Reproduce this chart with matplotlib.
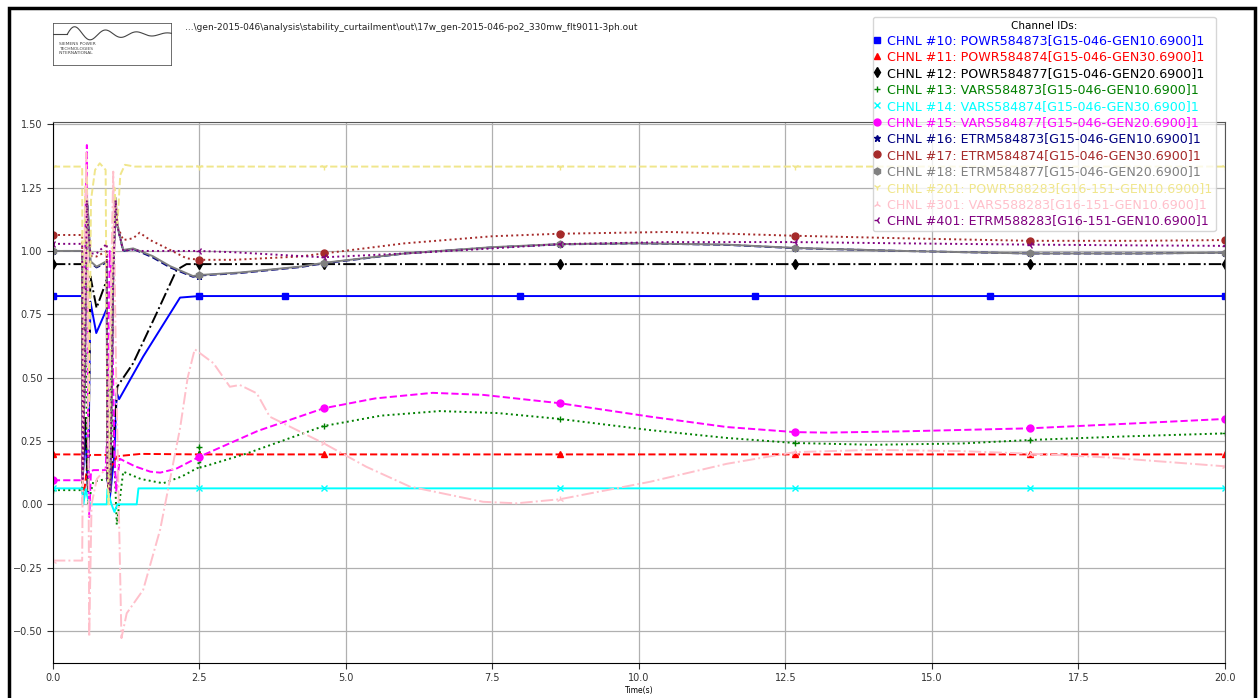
import numpy as np
import matplotlib
matplotlib.use('Agg')
import matplotlib.pyplot as plt
from matplotlib.patches import Rectangle

# PSS/E style channel plot: gen-2015-046, 3ph fault flt9011
header = '...\\gen-2015-046\\analysis\\stability_curtailment\\out\\17w_gen-2015-046-po2_330mw_flt9011-3ph.out'

mk_a = [0, 2.5, 3.96, 7.97, 11.98, 15.99, 20]
mk_b = [0, 2.5, 4.62, 8.65, 12.66, 16.67, 20]

# CHNL 10
t10 = [0, 0.5, 0.51, 0.55, 0.6, 0.64, 0.74, 0.92, 0.93, 0.97, 1.05, 1.09, 1.13, 1.54, 2.17, 2.5, 3.96, 7.97, 11.98, 15.99, 20]
v10 = [0.822, 0.822, 0.10, 0.30, 0.05, 0.80, 0.676, 0.772, 0.10, 0.02, 0.20, 0.44, 0.415, 0.583, 0.816, 0.822, 0.822, 0.822, 0.822, 0.822, 0.822]
# CHNL 11
t11 = [0, 0.5, 0.51, 0.56, 0.6, 0.65, 0.93, 0.95, 1.0, 1.05, 1.1, 1.5, 2.5, 4.62, 8.65, 12.66, 16.67, 20]
v11 = [0.197, 0.197, 0.0, 0.10, 0.19, 0.195, 0.195, 0.05, 0.15, 0.17, 0.19, 0.199, 0.197, 0.197, 0.197, 0.197, 0.197, 0.197]
# CHNL 12
t12 = [0, 0.5, 0.51, 0.55, 0.6, 0.64, 0.745, 0.92, 0.93, 0.97, 1.05, 1.1, 1.37, 1.77, 2.11, 2.28, 2.5, 4.62, 8.65, 12.66, 16.67, 20]
v12 = [0.948, 0.948, 0.10, 0.35, 0.05, 0.90, 0.775, 0.886, 0.10, 0.05, 0.30, 0.465, 0.557, 0.754, 0.925, 0.948, 0.948, 0.948, 0.948, 0.948, 0.948, 0.948]
# CHNL 13
t13 = [0, 0.5, 0.52, 0.56, 0.6, 0.69, 0.92, 0.93, 0.97, 1.03, 1.09, 1.2, 1.5, 1.88, 2.2, 2.48, 2.5, 2.52, 3.3, 4.62, 5.6, 6.6, 7.6, 8.65, 10.19, 11.5, 12.66, 14.0, 15.5, 16.67, 18.3, 20]
v13 = [0.056, 0.056, 0.30, 0.60, 0.0, 0.09, 0.10, 0.20, 0.50, 0.30, -0.08, 0.129, 0.10, 0.083, 0.11, 0.145, 0.225, 0.145, 0.20, 0.309, 0.35, 0.368, 0.36, 0.337, 0.293, 0.262, 0.242, 0.235, 0.24, 0.254, 0.268, 0.28]
# CHNL 14
t14 = [0, 0.5, 0.52, 0.56, 0.6, 0.64, 0.92, 0.93, 1.0, 1.05, 1.1, 1.12, 1.43, 1.46, 2.5, 4.62, 8.65, 12.66, 16.67, 20]
v14 = [0.063, 0.063, 0.0, 0.06, 0.02, 0.0, 0.0, 0.06, 0.0, -0.03, 0.0, 0.0, 0.0, 0.063, 0.063, 0.063, 0.063, 0.063, 0.063, 0.063]
# CHNL 15
t15 = [0, 0.5, 0.52, 0.56, 0.58, 0.6, 0.62, 0.65, 0.69, 0.9, 0.93, 0.97, 1.0, 1.05, 1.08, 1.14, 1.4, 1.66, 1.83, 2.1, 2.5, 3.5, 4.62, 5.5, 6.48, 7.34, 8.65, 10.19, 11.5, 12.66, 13.2, 14.5, 16.67, 18.5, 20]
v15 = [0.095, 0.095, 0.5, 1.2, 1.418, 0.3, -0.05, 0.13, 0.135, 0.135, 0.3, 1.0, 0.9, 0.2, 0.05, 0.18, 0.15, 0.129, 0.125, 0.14, 0.188, 0.29, 0.379, 0.418, 0.44, 0.432, 0.399, 0.346, 0.305, 0.285, 0.283, 0.288, 0.30, 0.32, 0.337]
# CHNL 16
t16 = [0, 0.5, 0.51, 0.55, 0.58, 0.6, 0.64, 0.745, 0.92, 0.93, 0.98, 1.03, 1.07, 1.1, 1.2, 1.37, 1.7, 2.0, 2.39, 2.5, 3.2, 4.21, 4.62, 6.0, 7.5, 8.65, 10.0, 11.5, 12.66, 14.5, 16.67, 18.5, 20]
v16 = [1.0, 1.0, 0.10, 0.6, 1.21, 1.15, 0.955, 0.935, 0.955, 0.10, 0.05, 0.9, 1.20, 1.1, 1.0, 1.008, 0.975, 0.935, 0.898, 0.903, 0.913, 0.936, 0.951, 0.99, 1.014, 1.026, 1.03, 1.024, 1.011, 1.0, 0.99, 0.99, 0.993]
# CHNL 17
t17 = [0, 0.5, 0.51, 0.55, 0.58, 0.6, 0.64, 0.745, 0.92, 0.93, 0.98, 1.03, 1.07, 1.1, 1.2, 1.37, 1.48, 1.66, 1.94, 2.28, 2.5, 3.08, 4.21, 4.62, 6.0, 7.5, 8.65, 10.5, 12.66, 14.5, 16.67, 18.5, 20]
v17 = [1.063, 1.063, 0.10, 0.6, 1.2, 1.1, 0.98, 0.978, 1.0, 0.10, 0.05, 0.9, 1.2, 1.1, 1.043, 1.05, 1.072, 1.043, 1.011, 0.971, 0.965, 0.965, 0.978, 0.99, 1.03, 1.058, 1.068, 1.075, 1.06, 1.05, 1.04, 1.04, 1.043]
# CHNL 18
t18 = [0, 0.5, 0.51, 0.55, 0.58, 0.6, 0.64, 0.745, 0.92, 0.93, 0.98, 1.03, 1.07, 1.1, 1.2, 1.37, 1.7, 2.0, 2.39, 2.5, 3.2, 4.21, 4.62, 6.0, 7.5, 8.65, 10.0, 11.5, 12.66, 14.5, 16.67, 18.5, 20]
v18 = [1.0, 1.0, 0.10, 0.6, 1.214, 1.15, 0.96, 0.938, 0.96, 0.10, 0.05, 0.9, 1.21, 1.1, 1.004, 1.01, 0.98, 0.94, 0.901, 0.905, 0.915, 0.938, 0.953, 0.99, 1.015, 1.027, 1.03, 1.025, 1.012, 1.0, 0.99, 0.99, 0.993]
# CHNL 201
t201 = [0, 0.5, 0.51, 0.55, 0.58, 0.62, 0.65, 0.72, 0.8, 0.9, 0.93, 0.95, 1.0, 1.05, 1.1, 1.15, 1.23, 1.4, 2.5, 4.62, 8.65, 12.66, 16.67, 20]
v201 = [1.333, 1.333, 0.2, 1.25, 1.3, 0.4, 1.2, 1.32, 1.346, 1.32, 0.2, 0.0, 0.8, 1.25, 1.1, 1.3, 1.34, 1.333, 1.333, 1.333, 1.333, 1.333, 1.333, 1.333]
# CHNL 301
t301 = [0, 0.5, 0.52, 0.57, 0.6, 0.62, 0.66, 0.75, 0.9, 0.93, 0.97, 1.03, 1.08, 1.17, 1.26, 1.54, 1.83, 2.17, 2.3, 2.42, 2.74, 3.02, 3.19, 3.48, 3.7, 4.62, 5.35, 6.09, 7.34, 7.91, 8.65, 10.19, 11.5, 12.66, 14.0, 15.5, 16.67, 18.0, 20]
v301 = [-0.222, -0.222, 0.5, 1.387, 0.6, -0.523, 0.0, 0.10, 0.14, 0.14, 0.6, 1.313, 0.5, -0.528, -0.43, -0.338, -0.10, 0.30, 0.50, 0.612, 0.557, 0.464, 0.471, 0.438, 0.346, 0.241, 0.148, 0.07, 0.01, 0.004, 0.02, 0.089, 0.16, 0.206, 0.215, 0.21, 0.20, 0.185, 0.15]
# CHNL 401
t401 = [0, 0.5, 0.51, 0.55, 0.58, 0.6, 0.64, 0.745, 0.92, 0.93, 0.98, 1.03, 1.07, 1.1, 1.2, 1.37, 1.48, 1.66, 1.94, 2.28, 2.5, 3.08, 4.21, 4.62, 6.0, 7.5, 8.65, 10.5, 12.66, 14.5, 16.67, 18.5, 20]
v401 = [1.028, 1.028, 0.10, 0.6, 1.2, 1.1, 0.99, 0.99, 1.028, 0.10, 0.05, 0.9, 1.2, 1.1, 1.0, 1.005, 1.0, 1.0, 1.0, 1.0, 1.0, 0.995, 0.98, 0.975, 0.99, 1.01, 1.027, 1.035, 1.035, 1.03, 1.025, 1.022, 1.02]

labels = ['CHNL #10: POWR584873[G15-046-GEN10.6900]1',
          'CHNL #11: POWR584874[G15-046-GEN30.6900]1',
          'CHNL #12: POWR584877[G15-046-GEN20.6900]1',
          'CHNL #13: VARS584873[G15-046-GEN10.6900]1',
          'CHNL #14: VARS584874[G15-046-GEN30.6900]1',
          'CHNL #15: VARS584877[G15-046-GEN20.6900]1',
          'CHNL #16: ETRM584873[G15-046-GEN10.6900]1',
          'CHNL #17: ETRM584874[G15-046-GEN30.6900]1',
          'CHNL #18: ETRM584877[G15-046-GEN20.6900]1',
          'CHNL #201: POWR588283[G16-151-GEN10.6900]1',
          'CHNL #301: VARS588283[G16-151-GEN10.6900]1',
          'CHNL #401: ETRM588283[G16-151-GEN10.6900]1']

series = [(t10, v10, mk_a, 'blue', '-', 's'),
          (t11, v11, mk_b, 'red', '--', '^'),
          (t12, v12, mk_b, 'black', '-.', 'd'),
          (t13, v13, mk_b, 'green', ':', '+'),
          (t14, v14, mk_b, 'cyan', '-', 'x'),
          (t15, v15, mk_b, 'magenta', '--', 'o'),
          (t16, v16, mk_b, 'navy', '--', '*'),
          (t17, v17, mk_b, 'brown', ':', 'o'),
          (t18, v18, mk_b, 'gray', '-', 'h'),
          (t201, v201, mk_b, 'khaki', '--', '1'),
          (t301, v301, mk_b, 'pink', '-.', '2'),
          (t401, v401, mk_b, 'purple', ':', '3')]

fig = plt.figure(figsize=(12.59, 6.98), dpi=100)
ax = fig.add_axes([0.042, 0.0506, 0.931, 0.775])

for (t, v, mk, c, ls, m), lab in zip(series, labels):
    t = np.array(t)
    mask = np.isin(np.round(t, 2), mk)
    ax.plot(t, v, color=c, linestyle=ls, marker=m, markevery=list(mask),
            markersize=5, linewidth=1.4, label=lab)

ax.set_xlim(0, 20)
ax.set_ylim(-0.625, 1.51)
ax.set_xticks(np.arange(0, 20.01, 2.5))
ax.set_yticks(np.arange(-0.5, 1.51, 0.25))
ax.grid(True, color='#b0b0b0', linewidth=0.9)
ax.tick_params(labelsize=7, colors='#333333', length=4)
for s in ['top', 'right']:
    ax.spines[s].set_color('#555555')
ax.set_xlabel('Time(s)', fontsize=5.5, labelpad=2)

leg = ax.legend(loc='upper right', bbox_to_anchor=(0.9706, 0.985),
                bbox_transform=fig.transFigure, title='Channel IDs:',
                title_fontsize=7.5, fontsize=9.1, handlelength=0,
                handletextpad=0.8, labelspacing=0.27, numpoints=1,
                labelcolor='linecolor', borderpad=0.3, framealpha=0.8)

# header text and logo
fig.text(0.147, 0.961, header, fontsize=6.5, va='center', color='#222222')
lg = fig.add_axes([0.0421, 0.9054, 0.0945, 0.0616])
lg.set_xlim(0, 1)
lg.set_ylim(0, 1)
lg.axis('off')
lg.add_patch(Rectangle((0, 0), 1, 1, fill=False, edgecolor='#555555', linewidth=1.2))
wx = np.linspace(0.12, 1.0, 200)
wy = 0.74 + 0.2 * np.exp(-2.2 * (wx - 0.12)) * np.sin((wx - 0.12) * 2 * np.pi / 0.26)
lg.plot([0, 0.12], [0.74, 0.74], color='#444444', lw=0.8)
lg.plot(wx, wy, color='#444444', lw=0.8)
lg.text(0.05, 0.55, 'SIEMENS POWER\nTECHNOLOGIES\nINTERNATIONAL', fontsize=3.2,
        va='top', color='#444444', linespacing=1.1)

# page frame
fig.add_artist(Rectangle((9 / 1259, -0.05), 1246 / 1259, 0.05 + 690 / 698,
                         transform=fig.transFigure, fill=False,
                         edgecolor='black', linewidth=2.5))

fig.savefig('out.png', dpi=100)
